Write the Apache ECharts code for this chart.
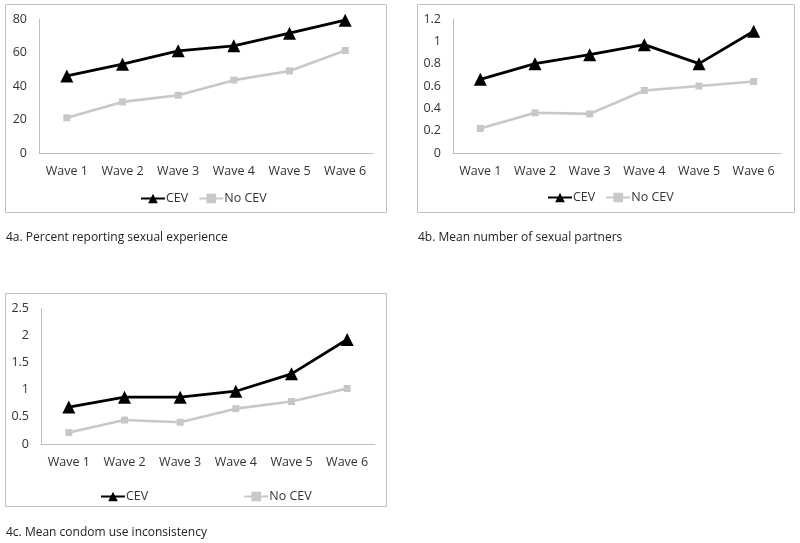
<!DOCTYPE html>
<html>
<head>
<meta charset="utf-8">
<script src="https://cdn.jsdelivr.net/npm/echarts@6/dist/echarts.min.js"></script>
<style>html,body{margin:0;padding:0;background:#fff}#c{width:800px;height:543px}</style>
</head>
<body>
<div id="c"></div>
<script>
const categories = ['Wave 1','Wave 2','Wave 3','Wave 4','Wave 5','Wave 6'];
const seriesNames = ['CEV','No CEV'];
const aCEV   = [46, 53, 61, 64, 71.5, 79.3];
const aNoCEV = [21, 30.5, 34.5, 43.5, 49, 61.2];
const bCEV   = [0.66, 0.80, 0.88, 0.97, 0.80, 1.09];
const bNoCEV = [0.22, 0.36, 0.35, 0.56, 0.60, 0.64];
const cCEV   = [0.68, 0.86, 0.86, 0.97, 1.29, 1.92];
const cNoCEV = [0.21, 0.44, 0.40, 0.65, 0.78, 1.02];
const captions = ['4a. Percent reporting sexual experience','4b. Mean number of sexual partners','4c. Mean condom use inconsistency'];
const yTicks = [{max:80, interval:20},{max:1.2, interval:0.2},{max:2.5, interval:0.5}];

const FONT = '"Open Sans", Lato, sans-serif';
const TXT = '#333333';
const GRAYLINE = '#bfbfbf';

const grids = [
  {left:39, top:19, width:334, height:134},
  {left:453, top:19, width:328, height:134},
  {left:41, top:308, width:334, height:136}
];
const xAxes = grids.map((g,i)=>({
  type:'category', gridIndex:i, data:categories, boundaryGap:true,
  axisLine:{show:true, lineStyle:{color:GRAYLINE, width:1}},
  axisTick:{show:false},
  axisLabel:{color:TXT, fontFamily:FONT, fontSize:12.5, margin:12, interval:0}
}));
const yAxes = grids.map((g,i)=>({
  type:'value', gridIndex:i, min:0, max:yTicks[i].max, interval:yTicks[i].interval,
  axisLine:{show:true, lineStyle:{color:GRAYLINE, width:1}},
  axisTick:{show:false},
  splitLine:{show:false},
  axisLabel:{color:TXT, fontFamily:FONT, fontSize:12.5, margin:12}
}));
const dataSets = [[aCEV,aNoCEV],[bCEV,bNoCEV],[cCEV,cNoCEV]];
const series = [];
dataSets.forEach((ds,i)=>{
  series.push({
    name:seriesNames[0], type:'line', xAxisIndex:i, yAxisIndex:i, data:ds[0],
    symbol:'triangle', symbolSize:13, lineStyle:{color:'#000', width:2.8},
    itemStyle:{color:'#000'}, z:3, animation:false
  });
  series.push({
    name:seriesNames[1], type:'line', xAxisIndex:i, yAxisIndex:i, data:ds[1],
    symbol:'rect', symbolSize:7, lineStyle:{color:'#c8c8c8', width:2.6},
    itemStyle:{color:'#c8c8c8'}, z:2, animation:false
  });
});
const legendBase = {
  orient:'horizontal', itemWidth:24, itemHeight:12,
  textStyle:{color:TXT, fontFamily:FONT, fontSize:12.5, padding:[0,0,0,-4]},
  data:seriesNames, selectedMode:false
};
const legends = [
  Object.assign({}, legendBase, {left:135, top:187, itemGap:10}),
  Object.assign({}, legendBase, {left:542, top:186, itemGap:10}),
  Object.assign({}, legendBase, {left:95, top:485, itemGap:95})
];
const boxStyle = {fill:'none', stroke:'#c0c0c0', lineWidth:1};
const option = {
  animation:false,
  grid:grids,
  xAxis:xAxes,
  yAxis:yAxes,
  legend:legends,
  series:series,
  graphic:[
    {type:'rect', shape:{x:5.5, y:4.5, width:381, height:208}, style:boxStyle, silent:true},
    {type:'rect', shape:{x:417.5, y:4.5, width:377, height:208}, style:boxStyle, silent:true},
    {type:'rect', shape:{x:5.5, y:293.5, width:381, height:213}, style:boxStyle, silent:true},
    {type:'text', left:6, top:232, style:{text:captions[0], fill:'#222', font:'12px '+FONT}},
    {type:'text', left:418, top:232, style:{text:captions[1], fill:'#222', font:'12px '+FONT}},
    {type:'text', left:6, top:527, style:{text:captions[2], fill:'#222', font:'12px '+FONT}}
  ]
};
const chart = echarts.init(document.getElementById('c'), null, {renderer:'canvas'});
chart.setOption(option);
</script>
</body>
</html>
